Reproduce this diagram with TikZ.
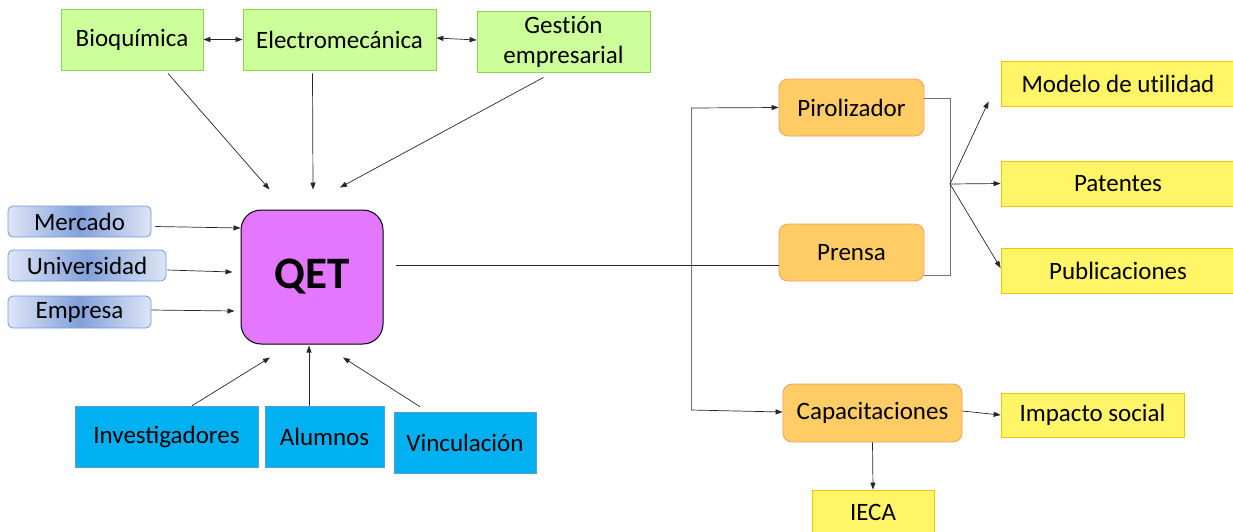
\documentclass[tikz,border=0pt]{standalone}
\usepackage{fontspec}
\setmainfont{Carlito}
\usetikzlibrary{arrows.meta}
\definecolor{greenfill}{RGB}{204,255,153}
\definecolor{greenline}{RGB}{146,208,80}
\definecolor{bluelight}{RGB}{222,230,246}
\definecolor{bluedark}{RGB}{130,160,218}
\definecolor{blueline}{RGB}{114,153,218}
\definecolor{cyanfill}{RGB}{0,176,240}
\definecolor{cyanline}{RGB}{91,155,213}
\definecolor{qetfill}{RGB}{227,119,255}
\definecolor{orangefill}{RGB}{255,204,102}
\definecolor{orangeline}{RGB}{244,160,90}
\definecolor{yellowfill}{RGB}{255,245,102}
\definecolor{yellowline}{RGB}{255,192,0}
\begin{document}
\begin{tikzpicture}
        [x=1pt,y=-1pt,>={Triangle[length=7pt,width=5pt]},
         box/.style={inner sep=0pt,font=\fontsize{25}{30}\selectfont,align=center},
         boxsize/.style 2 args={minimum width=#1pt,minimum height=#2pt},
         areabox/.style={box,fill=greenfill,draw=greenline,line width=0.8pt},
         actorbox/.style={box,rounded corners=5pt,draw=blueline,line width=0.8pt,
           left color=bluelight,right color=bluelight,middle color=bluedark},
         peoplebox/.style={box,fill=cyanfill,draw=cyanline,line width=0.6pt},
         projbox/.style={box,rounded corners=9pt,fill=orangefill,draw=orangeline,line width=0.8pt},
         resultbox/.style={box,fill=yellowfill,draw=yellowline,line width=0.8pt},
         arr/.style={->,black!85,line width=0.7pt},
         bracket/.style={black!55,line width=0.8pt}]
        \useasboundingbox (0,0) rectangle (1233,531);

        % centre
        \node[box,boxsize={142}{134},rounded corners=20pt,fill=qetfill,draw=black,line width=1pt,
          font=\fontsize{45}{50}\selectfont\bfseries] (qet) at (312,277) {QET};

        % areas
        \node[areabox,boxsize={142}{61}] (bio) at (132,39.5) {Bioquímica};
        \node[areabox,boxsize={193}{61}] (elec) at (339.5,39.5) {Electromecánica};
        \node[areabox,boxsize={173}{61}] (gest) at (563.5,41.5) {Gest\kern0pt ión\\empresarial};

        \draw[arr,<->] (bio.east) -- (elec.east -| elec.west);
        \draw[arr,<->] ([yshift=1.5pt]elec.east) -- ([yshift=-0.5pt]gest.west |- elec.east);
        \draw[arr] ([xshift=36pt,yshift=-3pt]bio.south) -- ([xshift=29pt,yshift=20pt]qet.north west);
        \draw[arr] ([xshift=-27pt,yshift=-3pt]elec.south) -- ([xshift=1pt,yshift=20pt]qet.north);
        \draw[arr] ([xshift=-20pt,yshift=-5pt]gest.south) -- ([xshift=28pt,yshift=22pt]qet.north);

        % actors
        \node[actorbox,boxsize={143}{31}] (merc) at (79.5,221.5) {Mercado};
        \node[actorbox,boxsize={158}{31}] (univ) at (87,265.5) {Universidad};
        \node[actorbox,boxsize={143}{32}] (empr) at (79.5,312) {Empresa};

        \draw[arr] ([xshift=4pt,yshift=-5pt]merc.east) -- ([yshift=49pt]qet.west);
        \draw[arr] ([xshift=1pt,yshift=-4.5pt]univ.east) -- ([xshift=-8pt,yshift=5pt]qet.west);
        \draw[arr] ([yshift=2pt]empr.east) -- ([xshift=-6pt,yshift=-34pt]qet.west);

        % people
        \node[peoplebox,boxsize={183}{61}] (inv) at (166.5,436.5) {Investigadores};
        \node[peoplebox,boxsize={119}{61}] (alu) at (324.5,436.5) {Alumnos};
        \node[peoplebox,boxsize={142}{61}] (vin) at (465,442.5) {Vinculación};

        \draw[arr] ([xshift=25.5pt]inv.north) -- ([xshift=-42pt,yshift=-13pt]qet.south);
        \draw[arr] ([xshift=-15.5pt]alu.north) -- ([xshift=-3pt,yshift=-1pt]qet.south);
        \draw[arr] ([xshift=-45pt,yshift=5pt]vin.north) -- ([xshift=31pt,yshift=-13pt]qet.south);

        % projects
        \node[projbox,boxsize={145}{57}] (piro) at (851.5,107.5) {Pirolizador};
        \node[projbox,boxsize={145}{57}] (prensa) at (851.5,252.5) {Prensa};
        \node[projbox,boxsize={179}{58}] (capa) at (872.5,413) {Capacitaciones};

        \coordinate (split) at (691,108);
        \coordinate (down) at (691,410);
        \draw[black!85,line width=0.7pt] ([xshift=12pt,yshift=12pt]qet.east) -- ([yshift=-12.5pt]prensa.west);
        \draw[bracket] (split) -- (down);
        \draw[arr] (split) -- (piro.west);
        \draw[arr] (down) -- ([yshift=1pt]capa.west);

        % results
        \node[resultbox,boxsize={234}{45}] (mod) at (1118,83.5) {Modelo de ut\kern0pt ilidad};
        \node[resultbox,boxsize={234}{45}] (pat) at (1118,183.5) {Patentes};
        \node[resultbox,boxsize={234}{45}] (pub) at (1118,270.5) {Publicaciones};
        \node[resultbox,boxsize={183}{44}] (imp) at (1092.5,415) {Impacto social};
        \node[resultbox,boxsize={122}{44}] (ieca) at (873,512) {IECA};

        \coordinate (fan) at (950,184);
        \draw[bracket] ([yshift=9.5pt]piro.east) -| (fan) |- ([yshift=-23pt]prensa.east);
        \draw[arr] (fan) -- ([xshift=-12pt,yshift=5pt]mod.south west);
        \draw[arr] (fan) -- (pat.west);
        \draw[arr] (fan) -- ([yshift=2.5pt]pub.west);
        \draw[arr] ([yshift=2pt]capa.east) -- ([yshift=0pt]imp.west);
        \draw[arr] (capa.south) -- (ieca.north);
      \end{tikzpicture}
\end{document}
